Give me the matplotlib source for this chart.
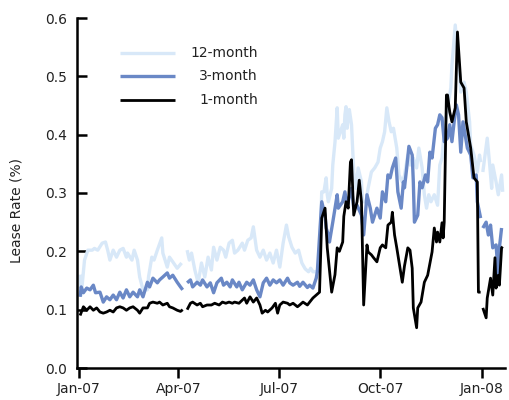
import numpy as np
import pandas as pd
import matplotlib
matplotlib.use("Agg")
import matplotlib.pyplot as plt

NA = np.nan

# 12-month lease rate (%)
dates_12m = [
    "2007-01-02", "2007-01-03", "2007-01-06", "2007-01-09", "2007-01-13", "2007-01-15",
    "2007-01-18", "2007-01-22", "2007-01-25", "2007-01-27", "2007-01-29", "2007-02-01",
    "2007-02-04", "2007-02-07", "2007-02-10", "2007-02-13", "2007-02-14", "2007-02-18",
    "2007-02-20", "2007-02-23", "2007-02-25", "2007-02-28", "2007-03-04", "2007-03-05",
    "2007-03-08", "2007-03-10", "2007-03-13", "2007-03-17", "2007-03-18", "2007-03-22",
    "2007-03-24", "2007-03-27", "2007-03-31", "2007-04-04", "2007-04-07", "2007-04-09",
    "2007-04-11", "2007-04-13", "2007-04-16", "2007-04-19", "2007-04-22", "2007-04-25",
    "2007-04-28", "2007-05-01", "2007-05-03", "2007-05-06", "2007-05-09",
    "2007-05-12", "2007-05-14", "2007-05-17", "2007-05-20", "2007-05-22", "2007-05-25",
    "2007-05-29", "2007-05-31", "2007-06-03", "2007-06-06", "2007-06-08",
    "2007-06-11", "2007-06-14", "2007-06-17", "2007-06-20", "2007-06-23", "2007-06-26",
    "2007-06-29", "2007-07-02", "2007-07-05", "2007-07-08", "2007-07-10", "2007-07-13",
    "2007-07-16", "2007-07-19", "2007-07-22", "2007-07-25", "2007-07-28", "2007-07-30",
    "2007-08-01", "2007-08-05", "2007-08-07", "2007-08-09", "2007-08-11", "2007-08-13",
    "2007-08-14", "2007-08-15", "2007-08-18", "2007-08-19", "2007-08-21", "2007-08-23",
    "2007-08-24", "2007-08-28", "2007-08-29", "2007-08-30", "2007-08-31",
    "2007-09-01", "2007-09-03", "2007-09-05", "2007-09-07", "2007-09-09", "2007-09-11",
    "2007-09-14", "2007-09-15", "2007-09-18", "2007-09-20", "2007-09-23", "2007-09-26",
    "2007-09-29", "2007-10-01", "2007-10-03", "2007-10-05", "2007-10-07", "2007-10-09",
    "2007-10-11", "2007-10-13", "2007-10-16", "2007-10-18", "2007-10-21", "2007-10-23",
    "2007-10-26", "2007-10-28", "2007-10-31", "2007-11-03", "2007-11-05", "2007-11-08",
    "2007-11-10", "2007-11-12", "2007-11-14", "2007-11-16", "2007-11-19", "2007-11-22",
    "2007-11-24", "2007-11-26", "2007-11-28", "2007-12-01", "2007-12-04", "2007-12-05",
    "2007-12-08", "2007-12-10", "2007-12-12", "2007-12-13", "2007-12-16", "2007-12-18",
    "2007-12-21", "2007-12-22", "2007-12-25", "2007-12-28", "2007-12-30", "2007-12-31",
    "2008-01-01", "2008-01-02", "2008-01-06", "2008-01-08", "2008-01-10", "2008-01-11",
    "2008-01-14", "2008-01-16", "2008-01-19", "2008-01-20",
]
rate_12m = [
    0.160, 0.125, 0.185, 0.202, 0.202, 0.205,
    0.202, 0.214, 0.216, 0.202, 0.185, 0.202,
    0.190, 0.202, 0.205, 0.190, 0.197, 0.185,
    0.202, 0.185, 0.156, 0.134, 0.134, 0.156,
    0.190, 0.185, 0.202, 0.223, 0.197, 0.173,
    0.190, 0.182, 0.171, 0.180, NA, 0.202,
    0.185, 0.197, 0.168, 0.146, 0.180, 0.156,
    0.190, 0.168, 0.207, 0.185, 0.207,
    0.202, 0.190, 0.214, 0.219, 0.197, 0.202,
    0.214, 0.202, 0.219, 0.223, 0.242,
    0.202, 0.190, 0.202, 0.185, 0.197, 0.180,
    0.202, 0.173, 0.214, 0.245, 0.225, 0.207,
    0.197, 0.202, 0.180, 0.170, 0.165, 0.171,
    0.165, 0.165, 0.194, 0.302, 0.302, 0.326,
    0.297, 0.285, 0.308, 0.348, 0.387, 0.446,
    0.394, 0.417, 0.394, 0.434, 0.448,
    0.411, 0.443, 0.417, 0.336, 0.308, 0.343,
    0.319, 0.285, 0.285, 0.308, 0.336, 0.343,
    0.353, 0.377, 0.388, 0.405, 0.446, 0.422,
    0.405, 0.411, 0.377, 0.331, 0.319, 0.330,
    0.365, 0.348, 0.360, 0.343, 0.377, 0.343,
    0.297, 0.274, 0.297, 0.285, 0.297, 0.279,
    0.348, 0.360, 0.405, 0.446, 0.480, 0.519,
    0.588, 0.537, 0.502, 0.473, 0.490, 0.473,
    0.422, 0.382, 0.365, 0.336, 0.365, 0.353,
    NA, 0.336, 0.394, 0.353, 0.308, 0.348,
    0.319, 0.297, 0.331, 0.302,
]

# 3-month lease rate (%)
dates_3m = [
    "2007-01-02", "2007-01-03", "2007-01-05", "2007-01-08", "2007-01-11", "2007-01-14",
    "2007-01-16", "2007-01-20", "2007-01-23", "2007-01-26", "2007-01-29", "2007-02-01",
    "2007-02-04", "2007-02-07", "2007-02-10", "2007-02-13", "2007-02-16", "2007-02-19",
    "2007-02-23", "2007-02-25", "2007-02-28", "2007-03-04", "2007-03-06", "2007-03-09",
    "2007-03-13", "2007-03-15", "2007-03-18", "2007-03-22", "2007-03-24", "2007-03-27",
    "2007-03-31", "2007-04-03", "2007-04-05", "2007-04-07", "2007-04-09", "2007-04-12",
    "2007-04-14", "2007-04-18", "2007-04-21", "2007-04-23", "2007-04-27", "2007-04-30",
    "2007-05-03", "2007-05-06", "2007-05-10", "2007-05-12", "2007-05-15",
    "2007-05-18", "2007-05-20", "2007-05-24", "2007-05-26", "2007-05-29",
    "2007-06-02", "2007-06-05", "2007-06-08", "2007-06-11", "2007-06-14", "2007-06-17",
    "2007-06-20", "2007-06-23", "2007-06-26", "2007-06-29", "2007-07-02", "2007-07-05",
    "2007-07-09", "2007-07-11", "2007-07-14", "2007-07-18", "2007-07-20", "2007-07-23",
    "2007-07-27", "2007-07-29", "2007-08-01", "2007-08-04", "2007-08-05", "2007-08-09",
    "2007-08-12", "2007-08-13", "2007-08-15", "2007-08-16", "2007-08-19", "2007-08-23",
    "2007-08-24", "2007-08-28", "2007-08-30", "2007-09-01", "2007-09-05",
    "2007-09-07", "2007-09-10", "2007-09-14", "2007-09-16", "2007-09-19", "2007-09-22",
    "2007-09-24", "2007-09-26", "2007-09-28", "2007-10-01", "2007-10-03", "2007-10-06",
    "2007-10-08", "2007-10-10", "2007-10-12", "2007-10-15", "2007-10-17", "2007-10-20",
    "2007-10-22", "2007-10-23", "2007-10-25", "2007-10-27", "2007-10-30", "2007-10-31",
    "2007-11-01", "2007-11-04", "2007-11-06", "2007-11-08", "2007-11-11", "2007-11-13",
    "2007-11-15", "2007-11-17", "2007-11-20", "2007-11-22", "2007-11-24", "2007-11-26",
    "2007-11-28", "2007-12-01", "2007-12-03", "2007-12-05", "2007-12-07", "2007-12-09",
    "2007-12-11", "2007-12-13", "2007-12-15", "2007-12-18", "2007-12-19", "2007-12-22",
    "2007-12-24", "2007-12-27", "2007-12-28", "2007-12-31", "2008-01-01", "2008-01-02",
    "2008-01-05", "2008-01-07", "2008-01-09", "2008-01-11", "2008-01-14", "2008-01-16",
    "2008-01-17", "2008-01-19",
]
rate_3m = [
    0.122, 0.139, 0.129, 0.137, 0.134, 0.142,
    0.129, 0.130, 0.113, 0.122, 0.117, 0.125,
    0.117, 0.130, 0.120, 0.134, 0.122, 0.130,
    0.122, 0.134, 0.122, 0.147, 0.139, 0.154,
    0.146, 0.151, 0.156, 0.163, 0.154, 0.159,
    0.147, 0.139, 0.134, NA, 0.146, 0.151,
    0.139, 0.147, 0.142, 0.151, 0.139, 0.146,
    0.129, 0.146, 0.154, 0.142, 0.147,
    0.139, 0.151, 0.139, 0.147, 0.134,
    0.147, 0.142, 0.151, 0.134, 0.122, 0.146,
    0.154, 0.142, 0.151, 0.146, 0.151, 0.142,
    0.154, 0.146, 0.142, 0.147, 0.140, 0.147,
    0.138, 0.142, 0.137, 0.154, 0.165, 0.285,
    0.262, 0.240, 0.228, 0.216, 0.250, 0.297,
    0.274, 0.285, 0.302, 0.279, 0.308,
    0.274, 0.279, 0.262, 0.228, 0.297, 0.274,
    0.250, 0.262, 0.274, 0.257, 0.302, 0.285,
    0.331, 0.326, 0.343, 0.360, 0.302, 0.274,
    0.319, 0.309, 0.343, 0.380, 0.365, 0.319,
    0.250, 0.262, 0.319, 0.309, 0.331, 0.319,
    0.370, 0.360, 0.411, 0.417, 0.434, 0.429,
    0.388, 0.394, 0.417, 0.388, 0.422, 0.451,
    0.434, 0.370, 0.422, 0.388, 0.377, 0.365,
    0.326, 0.331, 0.285, 0.257, NA, 0.240,
    0.250, 0.228, 0.245, 0.206, 0.211, 0.160,
    0.206, 0.240,
]

# 1-month lease rate (%)
dates_1m = [
    "2007-01-02", "2007-01-05", "2007-01-08", "2007-01-11", "2007-01-14", "2007-01-17",
    "2007-01-20", "2007-01-23", "2007-01-26", "2007-01-29", "2007-02-01", "2007-02-04",
    "2007-02-07", "2007-02-10", "2007-02-13", "2007-02-16", "2007-02-19", "2007-02-23",
    "2007-02-25", "2007-02-28", "2007-03-04", "2007-03-06", "2007-03-09", "2007-03-13",
    "2007-03-15", "2007-03-18", "2007-03-22", "2007-03-24", "2007-03-27", "2007-03-31",
    "2007-04-03", "2007-04-05", "2007-04-07", "2007-04-09", "2007-04-12", "2007-04-14",
    "2007-04-18", "2007-04-21", "2007-04-23", "2007-04-27", "2007-05-01", "2007-05-04",
    "2007-05-08", "2007-05-11", "2007-05-14", "2007-05-17", "2007-05-20",
    "2007-05-22", "2007-05-26", "2007-05-31", "2007-06-02", "2007-06-05",
    "2007-06-08", "2007-06-11", "2007-06-14", "2007-06-16", "2007-06-19", "2007-06-21",
    "2007-06-25", "2007-06-28", "2007-06-30", "2007-07-02", "2007-07-05", "2007-07-09",
    "2007-07-11", "2007-07-14", "2007-07-18", "2007-07-20", "2007-07-23", "2007-07-27",
    "2007-08-01", "2007-08-04", "2007-08-07", "2007-08-09", "2007-08-12", "2007-08-14",
    "2007-08-18", "2007-08-21", "2007-08-23", "2007-08-25", "2007-08-28",
    "2007-08-29", "2007-08-31", "2007-09-02", "2007-09-04", "2007-09-05", "2007-09-07",
    "2007-09-10", "2007-09-12", "2007-09-14", "2007-09-16", "2007-09-19", "2007-09-20",
    "2007-09-23", "2007-09-25", "2007-09-28", "2007-10-01", "2007-10-03", "2007-10-06",
    "2007-10-08", "2007-10-11", "2007-10-12", "2007-10-14", "2007-10-16", "2007-10-19",
    "2007-10-21", "2007-10-23", "2007-10-26", "2007-10-28", "2007-10-30", "2007-10-31",
    "2007-11-03", "2007-11-04", "2007-11-07", "2007-11-10", "2007-11-13", "2007-11-17",
    "2007-11-19", "2007-11-21", "2007-11-22", "2007-11-24", "2007-11-26", "2007-11-27",
    "2007-11-28", "2007-11-30", "2007-12-01", "2007-12-03", "2007-12-05", "2007-12-08",
    "2007-12-10", "2007-12-13", "2007-12-16", "2007-12-18", "2007-12-22", "2007-12-25",
    "2007-12-28", "2007-12-29", "2007-12-31", "2008-01-01", "2008-01-02", "2008-01-05",
    "2008-01-06", "2008-01-09", "2008-01-11", "2008-01-13", "2008-01-14", "2008-01-16",
    "2008-01-17", "2008-01-19", "2008-01-20",
]
rate_1m = [
    0.090, 0.105, 0.099, 0.105, 0.099, 0.103,
    0.096, 0.094, 0.096, 0.099, 0.096, 0.103,
    0.105, 0.103, 0.099, 0.103, 0.105, 0.099,
    0.094, 0.103, 0.103, 0.111, 0.113, 0.111,
    0.113, 0.108, 0.111, 0.105, 0.103, 0.099,
    0.097, 0.100, NA, 0.100, 0.111, 0.113,
    0.108, 0.111, 0.105, 0.108, 0.108, 0.111,
    0.108, 0.113, 0.111, 0.113, 0.111,
    0.113, 0.111, 0.120, 0.111, 0.122,
    0.113, 0.120, 0.108, 0.094, 0.099, 0.096,
    0.103, 0.111, 0.094, 0.108, 0.113, 0.111,
    0.108, 0.111, 0.105, 0.108, 0.113, 0.108,
    0.120, 0.125, 0.130, 0.257, 0.274, 0.206,
    0.130, 0.160, 0.206, 0.200, 0.216,
    0.260, 0.285, 0.274, 0.353, 0.357, 0.262,
    0.285, 0.322, 0.285, 0.108, 0.211, 0.199,
    0.194, 0.189, 0.182, 0.206, 0.211, 0.206,
    0.245, 0.250, 0.267, 0.228, 0.206, 0.171,
    0.147, 0.175, 0.206, 0.202, 0.171, 0.103,
    0.069, 0.103, 0.113, 0.147, 0.159, 0.199,
    0.240, 0.216, 0.233, 0.216, 0.249, 0.223,
    0.250, 0.468, 0.468, 0.439, 0.422, 0.446,
    0.576, 0.490, 0.480, 0.422, 0.377, 0.326,
    0.319, 0.130, 0.130, NA, 0.103, 0.086,
    0.120, 0.154, 0.125, 0.189, 0.137, 0.159,
    0.142, 0.206, 0.208,
]

series_labels = ["12-month", "3-month", "1-month"]
series_colors = ["#d8e8f8", "#6a88c6", "#000000"]
series_widths = [2.4, 2.4, 2.0]

tick_dates = ["2007-01-01", "2007-04-01", "2007-07-01", "2007-10-01", "2008-01-01"]
tick_labels = ["Jan-07", "Apr-07", "Jul-07", "Oct-07", "Jan-08"]
y_ticks = [0.0, 0.1, 0.2, 0.3, 0.4, 0.5, 0.6]

plt.rcParams["font.family"] = ["DejaVu Sans"]

fig = plt.figure(figsize=(5.10, 4.00), dpi=100)
ax = fig.add_axes([0.151, 0.08, 0.839, 0.875])

all_series = [(dates_12m, rate_12m), (dates_3m, rate_3m), (dates_1m, rate_1m)]
for (d, v), col, lw in zip(all_series, series_colors, series_widths):
    ax.plot(pd.to_datetime(d), np.array(v, dtype=float), color=col, lw=lw,
            solid_joinstyle="round", solid_capstyle="butt")

start = pd.Timestamp("2007-01-01")
ax.set_xlim(start - pd.Timedelta(days=1.8), start + pd.Timedelta(days=386))
ax.set_ylim(0.0, 0.6)

ax.set_xticks(pd.to_datetime(tick_dates))
ax.set_xticklabels(tick_labels)
ax.set_yticks(y_ticks)
ax.set_yticklabels([f"{t:.1f}" for t in y_ticks])

for side in ("top", "right"):
    ax.spines[side].set_visible(False)
for side in ("left", "bottom"):
    ax.spines[side].set_linewidth(1.8)

ax.tick_params(axis="y", direction="in", length=7, width=1.8, pad=7,
               labelsize=10, labelcolor="#222222")
ax.tick_params(axis="x", direction="out", length=7, width=1.8, pad=3,
               labelsize=10, labelcolor="#222222")

ax.set_ylabel("Lease Rate (%)", fontsize=10, color="#222222")
ax.yaxis.set_label_coords(-0.125, 0.45)

# legend: short line sample followed by right-aligned label
legend_rows = [0.90, 0.834, 0.767]
for lab, col, lw, yy in zip(series_labels, series_colors, series_widths, legend_rows):
    ax.plot([0.100, 0.229], [yy, yy], transform=ax.transAxes, color=col, lw=lw,
            solid_capstyle="butt")
    ax.text(0.423, yy, lab, transform=ax.transAxes, ha="right", va="center",
            fontsize=10, color="#222222")

fig.savefig("out.png", dpi=100)
